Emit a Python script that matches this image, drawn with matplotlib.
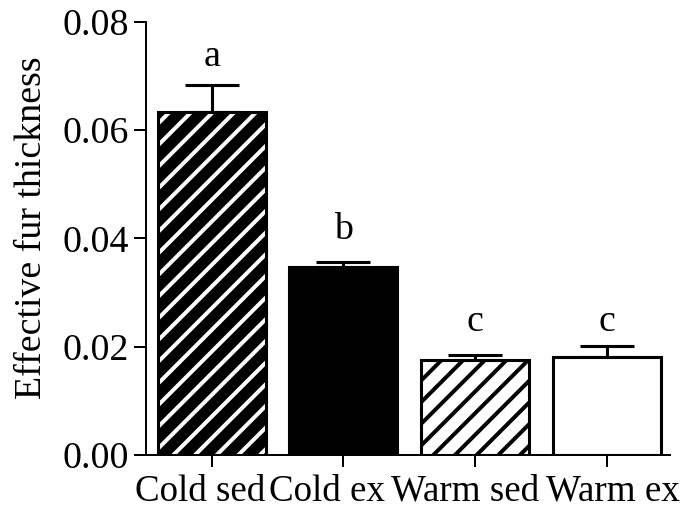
import numpy as np
import matplotlib
matplotlib.use("Agg")
import matplotlib.pyplot as plt
import matplotlib.transforms as mtransforms

# Data
groups = ["Cold sed", "Cold ex", "Warm sed", "Warm ex"]
means = [0.0634, 0.0347, 0.0175, 0.0181]
sem = [0.0050, 0.0009, 0.0009, 0.0020]
letters = ["a", "b", "c", "c"]
letter_y = [0.0718, 0.0398, 0.0229, 0.0229]

# bar styles: (face, hatch, hatch colour)
faces = ["black", "black", "white", "white"]
hatches = ["//", None, "//", None]
hatch_cols = ["white", "black", "black", "black"]

DPI = 130
plt.rcParams['font.family'] = ['Liberation Serif', 'DejaVu Serif']
plt.rcParams['hatch.linewidth'] = 2.2

fig = plt.figure(figsize=(688 / DPI, 516 / DPI), dpi=DPI)
ax = fig.add_axes([0.2122, 0.118, 0.7616, 0.840])

x = np.arange(len(groups))
width = 0.82

# error bars (upper only), drawn under the bars
ax.errorbar(x, means, yerr=[np.zeros(len(sem)), sem], fmt='none',
            ecolor='black', elinewidth=1.7, capsize=15, capthick=1.7, zorder=1)

for i in range(len(groups)):
    if hatches[i] is not None:
        # fill + hatch first, then the outline on top
        ax.bar(x[i], means[i], width, color=faces[i], edgecolor=hatch_cols[i],
               hatch=hatches[i], linewidth=0, zorder=2)
        ax.bar(x[i], means[i], width, fill=False, edgecolor='black',
               linewidth=1.7, zorder=3)
    else:
        ax.bar(x[i], means[i], width, color=faces[i], edgecolor='black',
               linewidth=1.7, zorder=2)

for i, lab in enumerate(letters):
    ax.text(x[i], letter_y[i], lab, ha='center', va='baseline', fontsize=21)

ax.set_xlim(-0.5, 3.48)
ax.set_ylim(0, 0.08)
ax.set_yticks([0.00, 0.02, 0.04, 0.06, 0.08])
ax.set_yticklabels(["0.00", "0.02", "0.04", "0.06", "0.08"])
ax.set_xticks(x)
ax.set_xticklabels(groups, fontsize=20.5)
ax.set_ylabel("Effective fur thickness", fontsize=21)
ax.yaxis.set_label_coords(-0.185, 0.524)

for side in ['top', 'right']:
    ax.spines[side].set_visible(False)
for side in ['left', 'bottom']:
    ax.spines[side].set_linewidth(1.1)
ax.tick_params(axis='both', width=1.1, length=6.5, direction='out')
ax.tick_params(axis='y', labelsize=21, pad=3)
ax.tick_params(axis='x', pad=4)

# the category names sit side by side under the axis, nudge them apart a little
shifts = [-12, -16, -10, 6]
for lbl, dx in zip(ax.get_xticklabels(), shifts):
    lbl.set_transform(lbl.get_transform() +
                      mtransforms.ScaledTranslation(dx / DPI, 0, fig.dpi_scale_trans))

fig.savefig("out.png", dpi=DPI)
